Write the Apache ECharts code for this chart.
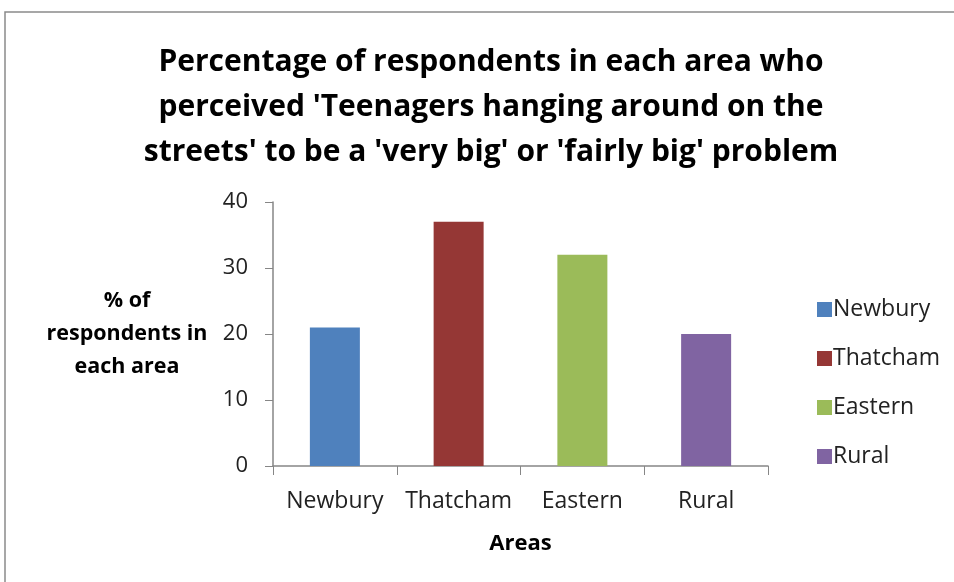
<!DOCTYPE html>
<html>
<head>
<meta charset="utf-8">
<script src="https://cdn.jsdelivr.net/npm/echarts@6/dist/echarts.min.js"></script>
<style>
  html, body { margin: 0; padding: 0; background: #fff; }
  #chart { width: 954px; height: 582px; }
</style>
</head>
<body>
<div id="chart"></div>
<script>
// data
const areas = ['Newbury', 'Thatcham', 'Eastern', 'Rural']
const percentages = [21, 37, 32, 20]
const colors = ['#4F81BD', '#953735', '#9BBB59', '#8064A2']
const yTicks = [0, 10, 20, 30, 40]

const font = 'Open Sans, Liberation Sans, sans-serif'
const chart = echarts.init(document.getElementById('chart'))

// one series per area so the legend lists each area; stacked so bars stay centred
const series = areas.map((name, i) => ({
  name: name,
  type: 'bar',
  stack: 'all',
  barWidth: 50,
  itemStyle: { color: colors[i] },
  data: percentages.map((v, j) => (j === i ? v : '-'))
}))

chart.setOption({
  animation: false,
  textStyle: { fontFamily: font },
  graphic: [{
    type: 'rect',
    shape: { x: 5, y: 12, width: 1000, height: 700 },
    style: { fill: 'none', stroke: '#8a8a8a', lineWidth: 1.5 },
    silent: true
  }],
  title: {
    text: "Percentage of respondents in each area who\nperceived 'Teenagers hanging around on the\nstreets' to be a 'very big' or 'fairly big' problem",
    left: 486,
    textAlign: 'center',
    top: 35,
    textStyle: {
      fontFamily: font,
      fontSize: 30,
      fontWeight: 'bold',
      color: '#000',
      lineHeight: 45
    }
  },
  legend: {
    orient: 'vertical',
    left: 812,
    top: 293,
    icon: 'rect',
    itemWidth: 15,
    itemHeight: 15,
    itemGap: 26,
    textStyle: { fontFamily: font, fontSize: 23, color: '#222', padding: [0, 0, 0, -4], lineHeight: 22 },
    data: areas
  },
  grid: { left: 273, right: 186, top: 202, bottom: 116 },
  xAxis: {
    type: 'category',
    data: areas,
    name: 'Areas',
    nameLocation: 'middle',
    nameGap: 67,
    nameTextStyle: { fontFamily: font, fontSize: 22, fontWeight: 'bold', color: '#000' },
    axisLine: { lineStyle: { color: '#868686', width: 1.5 } },
    axisTick: { show: true, length: 9, lineStyle: { color: '#868686' } },
    axisLabel: { fontFamily: font, fontSize: 23, color: '#222', margin: 24, interval: 0 }
  },
  yAxis: {
    type: 'value',
    min: yTicks[0],
    max: yTicks[yTicks.length - 1],
    interval: 10,
    name: '% of\nrespondents in\neach area',
    nameLocation: 'middle',
    nameRotate: 0,
    nameGap: 146,
    nameTextStyle: { fontFamily: font, fontSize: 21.5, fontWeight: 'bold', color: '#000', lineHeight: 33, align: 'center' },
    splitLine: { show: false },
    axisLine: { show: true, lineStyle: { color: '#868686', width: 1.5 } },
    axisTick: { show: true, length: 8, lineStyle: { color: '#868686' } },
    axisLabel: { fontFamily: font, fontSize: 22, color: '#222', margin: 25 }
  },
  series: series
})
</script>
</body>
</html>
